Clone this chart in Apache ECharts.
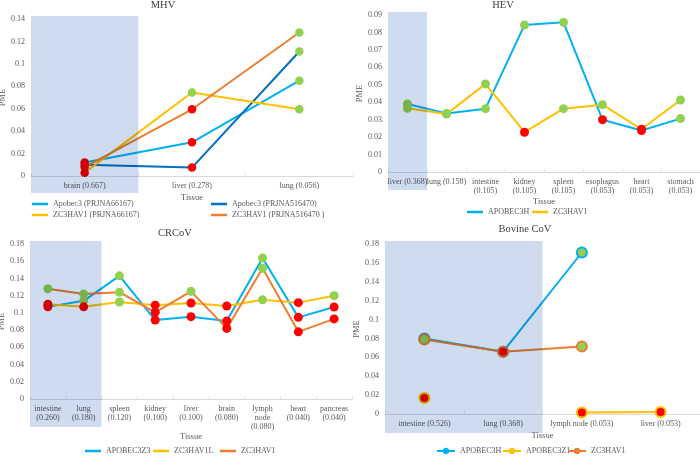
<!DOCTYPE html>
<html>
<head>
<meta charset="utf-8">
<script src="https://cdn.jsdelivr.net/npm/echarts@6/dist/echarts.min.js"></script>
<style>html,body{margin:0;padding:0;background:#fff}#c{width:700px;height:456px}</style>
</head>
<body>
<div id="c"></div>
<script>
// ---------- DATA ----------
// MHV
const mhvTitle = 'MHV';
const mhvCats = ['brain (0.667)', 'liver (0.278)', 'lung (0.056)'];
const mhvNames = ['Apobec3 (PRJNA66167)', 'Apobec3 (PRJNA516470)', 'ZC3HAV1 (PRJNA66167)', 'ZC3HAV1 (PRJNA516470 )'];
const mhvApobec3_66167 = [0.012, 0.030, 0.085];
const mhvApobec3_516470 = [0.010, 0.0075, 0.111];
const mhvZc3hav1_66167 = [0.003, 0.0745, 0.0595];
const mhvZc3hav1_516470 = [0.008, 0.0595, 0.128];
const mhvMarks = [['r', 'r', 'g'], ['r', 'r', 'g'], ['r', 'g', 'g'], ['r', 'r', 'g']];
const mhvShadeCats = ['brain (0.667)'];
const mhvYTicks = [0, 0.02, 0.04, 0.06, 0.08, 0.1, 0.12, 0.14];

// HEV
const hevTitle = 'HEV';
const hevCats = ['liver (0.368)', 'lung (0.158)', 'intestine\n(0.105)', 'kidney\n(0.105)', 'spleen\n(0.105)', 'esophagus\n(0.053)', 'heart\n(0.053)', 'stomach\n(0.053)'];
const hevNames = ['APOBEC3H', 'ZC3HAV1'];
const hevApobec3h = [0.039, 0.0336, 0.0363, 0.0843, 0.0858, 0.030, 0.0238, 0.0306];
const hevZc3hav1 = [0.0365, 0.0332, 0.0505, 0.0228, 0.0363, 0.0386, 0.0245, 0.0413];
const hevMarks = [['g', 'g', 'g', 'g', 'g', 'r', 'r', 'g'], ['g', 'g', 'g', 'r', 'g', 'g', 'r', 'g']];
const hevShadeCats = ['liver (0.368)'];
const hevYTicks = [0, 0.01, 0.02, 0.03, 0.04, 0.05, 0.06, 0.07, 0.08, 0.09];

// CRCoV
const crcTitle = 'CRCoV';
const crcCats = ['intestine\n(0.260)', 'lung\n(0.180)', 'spleen\n(0.120)', 'kidney\n(0.100)', 'liver\n(0.100)', 'brain\n(0.080)', 'lymph\nnode\n(0.080)', 'heart\n(0.040)', 'pancreas\n(0.040)'];
const crcNames = ['APOBEC3Z3', 'ZC3HAV1L', 'ZC3HAV1'];
const crcApobec3z3 = [0.107, 0.114, 0.143, 0.0917, 0.0956, 0.0906, 0.1638, 0.0948, 0.1068];
const crcZc3hav1l = [0.110, 0.107, 0.1127, 0.109, 0.1115, 0.108, 0.1153, 0.1119, 0.120];
const crcZc3hav1 = [0.128, 0.122, 0.124, 0.1007, 0.125, 0.082, 0.1518, 0.078, 0.093];
const crcMarks = [
  ['r', 'g', 'g', 'r', 'r', 'r', 'g', 'r', 'r'],
  ['r', 'r', 'g', 'r', 'r', 'r', 'g', 'r', 'g'],
  ['g', 'g', 'g', 'r', 'g', 'r', 'g', 'r', 'r']
];
const crcShadeCats = ['intestine\n(0.260)', 'lung\n(0.180)'];
const crcYTicks = [0, 0.02, 0.04, 0.06, 0.08, 0.1, 0.12, 0.14, 0.16, 0.18];

// Bovine CoV
const bovTitle = 'Bovine CoV';
const bovCats = ['intestine (0.526)', 'lung (0.368)', 'lymph node (0.053)', 'liver (0.053)'];
const bovNames = ['APOBEC3H', 'APOBEC3Z1', 'ZC3HAV1'];
const bovApobec3h = [0.080, 0.066, 0.171, null];
const bovApobec3z1 = [0.017, null, 0.0015, 0.002];
const bovZc3hav1 = [0.079, 0.066, 0.0715, null];
const bovMarks = [['g', 'r', 'g', null], ['r', null, 'r', 'r'], ['g', 'r', 'g', null]];
const bovShadeCats = ['intestine (0.526)', 'lung (0.368)'];
const bovYTicks = [0, 0.02, 0.04, 0.06, 0.08, 0.1, 0.12, 0.14, 0.16, 0.18];

// ---------- STYLE ----------
const FONT = 'Liberation Serif';
const TXT = '#595959';
const RED = '#FF0000', GREEN = '#92D050';
const C_LBLUE = '#00B0F0', C_DBLUE = '#0070C0', C_YEL = '#FFC000', C_ORG = '#ED7D31';

const panels = [
  { title: mhvTitle, tx: 163, ty: 6, cats: mhvCats, ticks: mhvYTicks, shade: mhvShadeCats,
    grid: { left: 31, top: 19, width: 322, height: 157 }, xGap: 17, yGap: 18, shadeBelow: 17,
    series: [
      { name: mhvNames[0], data: mhvApobec3_66167, marks: mhvMarks[0], color: C_LBLUE },
      { name: mhvNames[1], data: mhvApobec3_516470, marks: mhvMarks[1], color: C_DBLUE },
      { name: mhvNames[2], data: mhvZc3hav1_66167, marks: mhvMarks[2], color: C_YEL },
      { name: mhvNames[3], data: mhvZc3hav1_516470, marks: mhvMarks[3], color: C_ORG }
    ],
    legends: [[32, 204], [211, 204], [32, 215], [211, 215]], bordered: false, size: 8.5 },
  { title: hevTitle, tx: 503, ty: 6, cats: hevCats, ticks: hevYTicks, shade: hevShadeCats,
    grid: { left: 388, top: 15, width: 312, height: 157 }, xGap: 25, yGap: 21, shadeBelow: 18,
    series: [
      { name: hevNames[0], data: hevApobec3h, marks: hevMarks[0], color: C_LBLUE },
      { name: hevNames[1], data: hevZc3hav1, marks: hevMarks[1], color: C_YEL }
    ],
    legends: [[467, 212], [532, 212]], bordered: false, size: 9 },
  { title: crcTitle, tx: 175, ty: 234, cats: crcCats, ticks: crcYTicks, shade: crcShadeCats,
    grid: { left: 30, top: 244, width: 322, height: 155 }, xGap: 32, yGap: 19, shadeBelow: 28,
    series: [
      { name: crcNames[0], data: crcApobec3z3, marks: crcMarks[0], color: C_LBLUE },
      { name: crcNames[1], data: crcZc3hav1l, marks: crcMarks[1], color: C_YEL },
      { name: crcNames[2], data: crcZc3hav1, marks: crcMarks[2], color: C_ORG }
    ],
    legends: [[85, 451], [153, 451], [220, 451]], bordered: false, size: 9 },
  { title: bovTitle, tx: 525, ty: 230, cats: bovCats, ticks: bovYTicks, shade: bovShadeCats,
    grid: { left: 385, top: 244, width: 315, height: 170 }, xGap: 17, yGap: 20, shadeBelow: 19,
    series: [
      { name: bovNames[0], data: bovApobec3h, marks: bovMarks[0], color: C_LBLUE },
      { name: bovNames[1], data: bovApobec3z1, marks: bovMarks[1], color: C_YEL },
      { name: bovNames[2], data: bovZc3hav1, marks: bovMarks[2], color: C_ORG }
    ],
    legends: [[436, 451], [502, 451], [567, 451]], bordered: true, size: 10 }
];

const option = {
  animation: false,
  backgroundColor: '#fff',
  textStyle: { fontFamily: FONT },
  title: [], grid: [], xAxis: [], yAxis: [], legend: [], series: []
};

panels.forEach((p, k) => {
  option.title.push({
    text: p.title, left: p.tx, top: p.ty - 6, textAlign: 'center', padding: 0,
    textStyle: { fontFamily: FONT, fontSize: 10.5, fontWeight: 'normal', color: '#404040' }
  });
  option.grid.push(Object.assign({ containLabel: false, outerBoundsMode: 'none' }, p.grid));
  option.xAxis.push({
    gridIndex: k, type: 'category', data: p.cats, boundaryGap: true,
    axisLine: { show: true, lineStyle: { color: '#D9D9D9', width: 1 } },
    axisTick: { show: true, inside: true, length: 3, lineStyle: { color: '#E3E3E3' } },
    axisLabel: { interval: 0, hideOverlap: false, fontFamily: FONT, fontSize: 8, lineHeight: 9, color: TXT, margin: 5 },
    splitLine: { show: false },
    name: 'Tissue', nameLocation: 'middle', nameGap: p.xGap,
    nameTextStyle: { fontFamily: FONT, fontSize: 8.5, color: TXT }
  });
  const t = p.ticks;
  option.yAxis.push({
    gridIndex: k, type: 'value', min: t[0], max: t[t.length - 1], interval: t[1] - t[0],
    axisLine: { show: false }, axisTick: { show: false }, splitLine: { show: false },
    axisLabel: { fontFamily: FONT, fontSize: 8, color: TXT, margin: 6,
      formatter: (v) => String(Math.round(v * 1000) / 1000) },
    name: 'PME', nameLocation: 'middle', nameRotate: 90, nameGap: p.yGap,
    nameTextStyle: { fontFamily: FONT, fontSize: 8.5, color: TXT }
  });
  p.series.forEach((s, j) => {
    option.series.push({
      type: 'line', name: s.name, xAxisIndex: k, yAxisIndex: k,
      symbol: 'circle', symbolSize: p.size, showSymbol: true, showAllSymbol: true,
      color: s.color,
      lineStyle: { color: s.color, width: 2 },
      itemStyle: p.bordered ? { color: s.color, borderColor: s.color, borderWidth: 2 } : { color: s.color, borderWidth: 0 },
      emphasis: { disabled: true },
      data: s.data.map((v, i) => v == null ? '-' : { value: v, itemStyle: { color: s.marks[i] === 'r' ? RED : GREEN } })
    });
    const pos = p.legends[j];
    const item = {
      name: s.name,
      itemStyle: { color: s.color, borderColor: s.color, borderWidth: p.bordered ? 1 : 0 },
      lineStyle: { color: s.color, width: 2 }
    };
    const leg = {
      data: [item], left: pos[0], top: pos[1] - 5, padding: 0, itemGap: 0,
      selectedMode: false,
      textStyle: { fontFamily: FONT, fontSize: 8, color: TXT, lineHeight: 10 }
    };
    if (p.bordered) { leg.itemWidth = 18; leg.itemHeight = 7; }
    else { item.icon = 'rect'; leg.itemWidth = 16; leg.itemHeight = 2.5; }
    option.legend.push(leg);
  });
});

const chart = echarts.init(document.getElementById('c'), null, { renderer: 'canvas' });
chart.setOption(option);

// shaded (highlighted) category bands, positioned through the axes' own scales
const shades = panels.map((p, k) => {
  const c0 = chart.convertToPixel({ xAxisIndex: k }, p.cats[0]);
  const c1 = chart.convertToPixel({ xAxisIndex: k }, p.cats[1]);
  const band = c1 - c0;
  const xa = chart.convertToPixel({ xAxisIndex: k }, p.shade[0]) - band / 2;
  const xb = chart.convertToPixel({ xAxisIndex: k }, p.shade[p.shade.length - 1]) + band / 2;
  const yTop = chart.convertToPixel({ yAxisIndex: k }, p.ticks[p.ticks.length - 1]) - 3;
  const yBot = chart.convertToPixel({ yAxisIndex: k }, p.ticks[0]) + p.shadeBelow;
  return {
    type: 'rect', z: 100, silent: true,
    shape: { x: xa, y: yTop, width: xb - xa, height: yBot - yTop },
    style: { fill: '#CFDCF0', blend: 'multiply' }
  };
});
chart.setOption({ graphic: { elements: shades } });
</script>
</body>
</html>
